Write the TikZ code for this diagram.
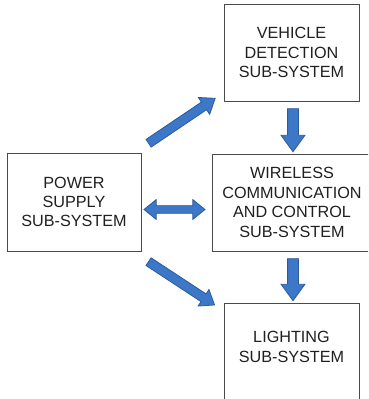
\documentclass[tikz,border=0pt]{standalone}
\usepackage{fontspec}
\setmainfont{Liberation Sans}
\usetikzlibrary{shapes.arrows,calc}
\definecolor{arrfill}{HTML}{3D78C8}
\definecolor{arrline}{HTML}{2A5A9A}
\definecolor{boxline}{HTML}{4A4A4A}
\definecolor{txt}{HTML}{202020}
\tikzset{
  box/.style={draw=boxline, line width=1pt, fill=white, align=center, text=txt,
    font=\fontsize{16.2}{19.4}\selectfont, inner sep=0pt},
  barrow/.style={single arrow, draw=arrline, fill=arrfill, line width=0.8pt,
    inner xsep=0pt, inner ysep=#1, text height=0pt, text depth=0pt, text width=0pt,
    single arrow head indent=0pt},
  darrow/.style={double arrow, draw=arrline, fill=arrfill, line width=0.8pt,
    inner xsep=0pt, inner ysep=3.4pt, text height=0pt, text depth=0pt, text width=0pt,
    double arrow head indent=0pt, double arrow tip angle=78,
    minimum width=19pt, double arrow head extend=6.1pt}
}
\newcommand\blockconn[3]{%
  \path let \p1=($(#3)-(#2)$), \n1={veclen(\x1,\y1)} in
    (#2) -- (#3) node[midway, sloped, allow upside down, #1, minimum height=\n1] {};%
}
\begin{document}
\begin{tikzpicture}[x=1pt,y=1pt]
\useasboundingbox (0,0) rectangle (368,-399);
\clip (0,0) rectangle (368,-399);
% boxes
\node[box, minimum width=135pt, minimum height=97pt] (veh) at (291.5,-52.5)
  {VEHICLE\\DETECTION\\SUB-SYSTEM};
\node[box, minimum width=134pt, minimum height=98pt] (pow) at (74,-202)
  {POWER\\SUPPLY\\SUB-SYSTEM};
\node[box, minimum width=160pt, minimum height=97pt] (wir) at (292,-202.5)
  {WIRELESS\\COMMUNICATION\\AND CONTROL\\SUB-SYSTEM};
\node[box, minimum width=135pt, minimum height=107pt] (lig) at (291.5,-356.5) {};
\node[box, draw=none, fill=none] (ligtext) at (291.5,-347) {LIGHTING\\SUB-SYSTEM};
% arrow end points
\coordinate (ua1) at (146,-145);
\coordinate (ua2) at (212.7,-100);
\coordinate (da1) at (146,-260);
\coordinate (da2) at (212,-303.3);
\coordinate (v1a) at (293,-105);
\coordinate (v1b) at (293,-148);
\coordinate (v2a) at (293,-255);
\coordinate (v2b) at (293,-297);
\coordinate (d1) at (144,-209.5);
\coordinate (d2) at (205,-209.5);
% arrows
\blockconn{barrow=4.2pt, minimum width=19.5pt, single arrow head extend=5.55pt, single arrow tip angle=74}{ua1}{ua2}
\blockconn{barrow=4.2pt, minimum width=19pt, single arrow head extend=5.3pt, single arrow tip angle=74}{da1}{da2}
\blockconn{barrow=5pt, minimum width=23pt, single arrow head extend=6.5pt, single arrow tip angle=72}{v1a}{v1b}
\blockconn{barrow=5pt, minimum width=23pt, single arrow head extend=6.5pt, single arrow tip angle=72}{v2a}{v2b}
\blockconn{darrow}{d1}{d2}
\end{tikzpicture}
\end{document}
